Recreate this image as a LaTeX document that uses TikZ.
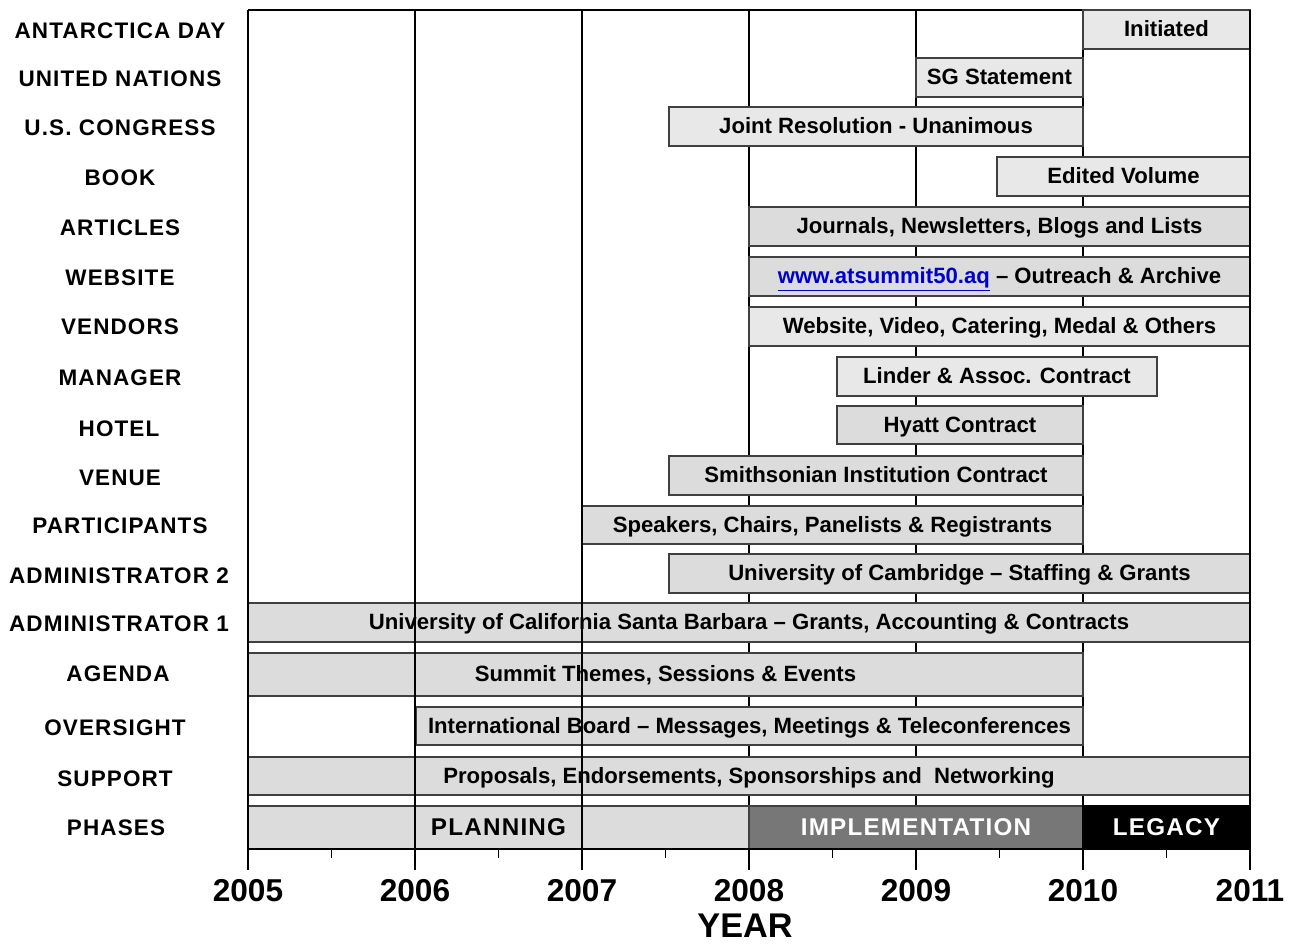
\documentclass[tikz,border=0pt]{standalone}
\usepackage{fontspec}
\setmainfont{Liberation Sans}
\usepackage{xcolor}

\definecolor{barlight}{HTML}{E8E8E8}
\definecolor{barmid}{HTML}{DCDCDC}
\definecolor{barline}{HTML}{404040}
\definecolor{phasedark}{HTML}{777777}
\definecolor{linkblue}{HTML}{0000CC}

% bar between two x and two y positions (pixels)
\newcommand{\ganttbar}[7][bar]{%
  \node[#1, minimum width={(#4-#3)*0.02cm}, minimum height={(#6-#5)*0.02cm}]
    (#2) at ({(#3+#4)/2},{(#5+#6)/2}) {#7};}

\begin{document}
\begin{tikzpicture}[
    x=0.02cm, y=-0.02cm,
    bar/.style={draw=barline, line width=0.8pt, fill=barmid, inner sep=0pt,
                text height=10.5pt, text depth=2.5pt,
                font=\fontsize{12.6}{14}\selectfont\bfseries},
    lightbar/.style={bar, fill=barlight},
    rowlabel/.style={font=\fontsize{12.8}{14}\selectfont\bfseries\addfontfeature{LetterSpace=5}},
    phase/.style={bar, text height=11.5pt,
                  font=\fontsize{13.8}{16}\selectfont\bfseries\addfontfeature{LetterSpace=5}},
    darkphase/.style={phase, fill=phasedark, text=white},
    blackphase/.style={phase, draw=black, fill=black, text=white},
    gridline/.style={line width=0.6pt},
    yearlabel/.style={font=\fontsize{18}{20}\selectfont\bfseries}
]
\useasboundingbox (0,0) rectangle (1289,944);

% year grid behind the bars
\foreach \yr in {2005,...,2011} {
  \pgfmathsetmacro\xx{248+(\yr-2005)*167}
  \draw[gridline] (\xx,10) -- (\xx,870);
}
\draw[gridline] (248,10) -- (1250,10);

% row labels
\node[rowlabel] (lblday)    at (120,31)  {ANTARCTICA DAY};
\node[rowlabel] (lblun)     at (120,79)  {UNITED NATIONS};
\node[rowlabel] (lblcong)   at (120,128) {U.S. CONGRESS};
\node[rowlabel] (lblbook)   at (120,178) {BOOK};
\node[rowlabel] (lblart)    at (120,228) {ARTICLES};
\node[rowlabel] (lblweb)    at (120,278) {WEBSITE};
\node[rowlabel] (lblvend)   at (120,327) {VENDORS};
\node[rowlabel] (lblman)    at (120,378) {MANAGER};
\node[rowlabel] (lblhotel)  at (119,429) {HOTEL};
\node[rowlabel] (lblvenue)  at (120,478) {VENUE};
\node[rowlabel] (lblpart)   at (120,526) {PARTICIPANTS};
\node[rowlabel] (lbladmtwo) at (119,576) {ADMINISTRATOR 2};
\node[rowlabel] (lbladmone) at (119,624) {ADMINISTRATOR 1};
\node[rowlabel] (lblagenda) at (118,674) {AGENDA};
\node[rowlabel] (lblover)   at (115,728) {OVERSIGHT};
\node[rowlabel] (lblsup)    at (115,779) {SUPPORT};
\node[rowlabel] (lblphase)  at (116,828) {PHASES};

% activity bars
\ganttbar[lightbar]{day}{1083}{1250}{10}{49}{Initiated}
\ganttbar[lightbar]{un}{916}{1083}{58}{97}{SG Statement}
\ganttbar[lightbar]{cong}{669}{1083}{107}{146}{Joint Resolution - Unanimous}
\ganttbar[lightbar]{book}{997}{1250}{157}{196}{Edited Volume}
\ganttbar{art}{749}{1250}{207}{246}{Journals, Newsletters, Blogs and Lists}
\ganttbar{web}{749}{1250}{257}{296}{{\color{linkblue}\underline{www.atsummit50.aq}} -- Outreach \& Archive}
\ganttbar[lightbar]{vend}{749}{1250}{307}{346}{Website, Video, Catering, Medal \& Others}
\ganttbar[lightbar]{man}{837}{1157}{357}{396}{Linder \& Assoc. Contract}
\ganttbar{hotel}{837}{1083}{406}{444}{Hyatt Contract}
\ganttbar{venue}{669}{1083}{456}{495}{Smithsonian Institution Contract}
\ganttbar{part}{582}{1083}{506}{544}{Speakers, Chairs, Panelists \& Registrants}
\ganttbar{admtwo}{669}{1250}{554}{593}{University of Cambridge -- Staffing \& Grants}
\ganttbar{admone}{248}{1250}{603}{642}{University of California Santa Barbara -- Grants, Accounting \& Contracts}
\ganttbar{agenda}{248}{1083}{653}{696}{Summit Themes, Sessions \& Events}
\ganttbar{over}{416}{1083}{707}{745}{International Board -- Messages, Meetings \& Teleconferences}
\ganttbar{sup}{248}{1250}{757}{795}{Proposals, Endorsements, Sponsorships and\ \ Networking}

% phases
\ganttbar[phase]{planning}{248}{749}{806}{849}{PLANNING}
\ganttbar[darkphase]{impl}{749}{1083}{806}{849}{IMPLEMENTATION}
\ganttbar[blackphase]{legacy}{1083}{1250}{806}{849}{LEGACY}

% lines that run over the bars
\foreach \yr in {2005,2006,2007,2011} {
  \pgfmathsetmacro\xx{248+(\yr-2005)*167}
  \draw[gridline] (\xx,10) -- (\xx,870);
}

% axis, ticks and years
\draw[gridline] (248,849) -- (1250,849);
\foreach \yr in {2005,...,2010} {
  \pgfmathsetmacro\xx{248+(\yr-2005)*167+83.5}
  \draw[gridline] (\xx,849) -- (\xx,858);
}
\foreach \yr in {2005,...,2011} {
  \pgfmathsetmacro\xx{248+(\yr-2005)*167}
  \node[yearlabel] (y\yr) at (\xx,891) {\yr};
}
\node[font=\fontsize{19.5}{22}\selectfont\bfseries, inner sep=0pt] (yearaxis) at (745,926) {YEAR};
\end{tikzpicture}
\end{document}
